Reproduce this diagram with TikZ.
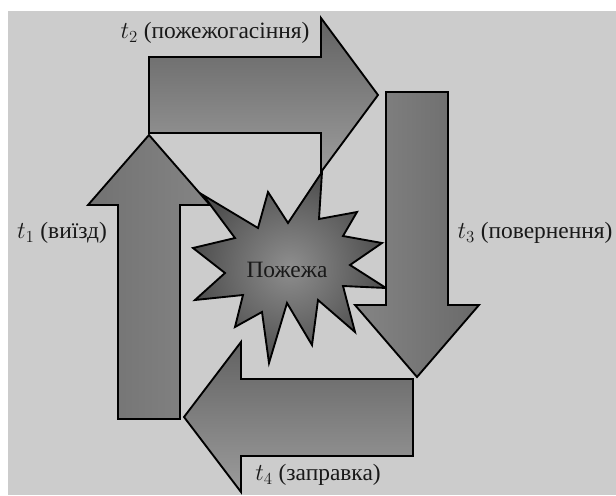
\documentclass[tikz,border=0pt]{standalone}
\usepackage{fontspec}
\setmainfont{Liberation Serif}
\usepackage{tikz}
\usetikzlibrary{calc}

\definecolor{bggray}{HTML}{CCCCCC}
\definecolor{shadedark}{HTML}{626262}
\definecolor{shadelight}{HTML}{9C9C9C}
\definecolor{stardark}{HTML}{4E4E4E}
\definecolor{starlight}{HTML}{8E8E8E}

\begin{document}
\begin{tikzpicture}[
    x=0.03cm, y=-0.03cm,
    blockarrow/.style={
      draw=black, line width=1.6pt, line join=miter
    },
    vshade/.style={
      blockarrow, top color=shadedark, bottom color=shadelight
    },
    hshade/.style={
      blockarrow, left color=shadedark!90, right color=shadelight!85!black
    },
    rshade/.style={
      blockarrow, left color=shadelight!85!black, right color=shadedark!95
    },
    burst/.style={
      draw=black, line width=1.6pt, line join=miter,
      inner color=starlight, outer color=stardark
    },
    phase/.style={
      font=\fontsize{20}{24}\selectfont, text=black!90, inner sep=0pt
    }
  ]

    \useasboundingbox (0,0) rectangle (616,495);
    \fill[bggray] (8,11) rectangle (616,495);

    % fire in the middle
    \path[burst] (203,195) -- (258,228) -- (268,192) -- (288,223)
      -- (322,172) -- (319,219) -- (357,212) -- (343,236)
      -- (382,243) -- (350,265) -- (386,288) -- (343,286)
      -- (355,332) -- (318,300) -- (312,345) -- (287,303)
      -- (269,363) -- (262,312) -- (235,327) -- (243,295)
      -- (195,300) -- (225,273) -- (193,248) -- (235,238) -- cycle;

    % the four phases
    \path[vshade] (149,57) -- (321,57) -- (321,18) -- (378,95)
      -- (321,172) -- (321,133) -- (149,133) -- cycle;
    \path[rshade] (386,92) -- (448,92) -- (448,305) -- (479,305)
      -- (417,377) -- (355,305) -- (386,305) -- cycle;
    \path[vshade] (413,379) -- (413,456) -- (241,456) -- (241,492)
      -- (184,417) -- (241,342) -- (241,379) -- cycle;
    \path[hshade] (118,419) -- (118,205) -- (88,205) -- (149,135)
      -- (210,205) -- (180,205) -- (180,419) -- cycle;

    \node[phase] (fire) at (287,270) {Пожежа};
    \node[phase] (tone) at (62,233) {$t_1$ (виїзд)};
    \node[phase] (ttwo) at (215,33) {$t_2$ (пожежогасіння)};
    \node[phase] (tthree) at (535,233) {$t_3$ (повернення)};
    \node[phase] (tfour) at (318,475) {$t_4$ (заправка)};
  \end{tikzpicture}
\end{document}
